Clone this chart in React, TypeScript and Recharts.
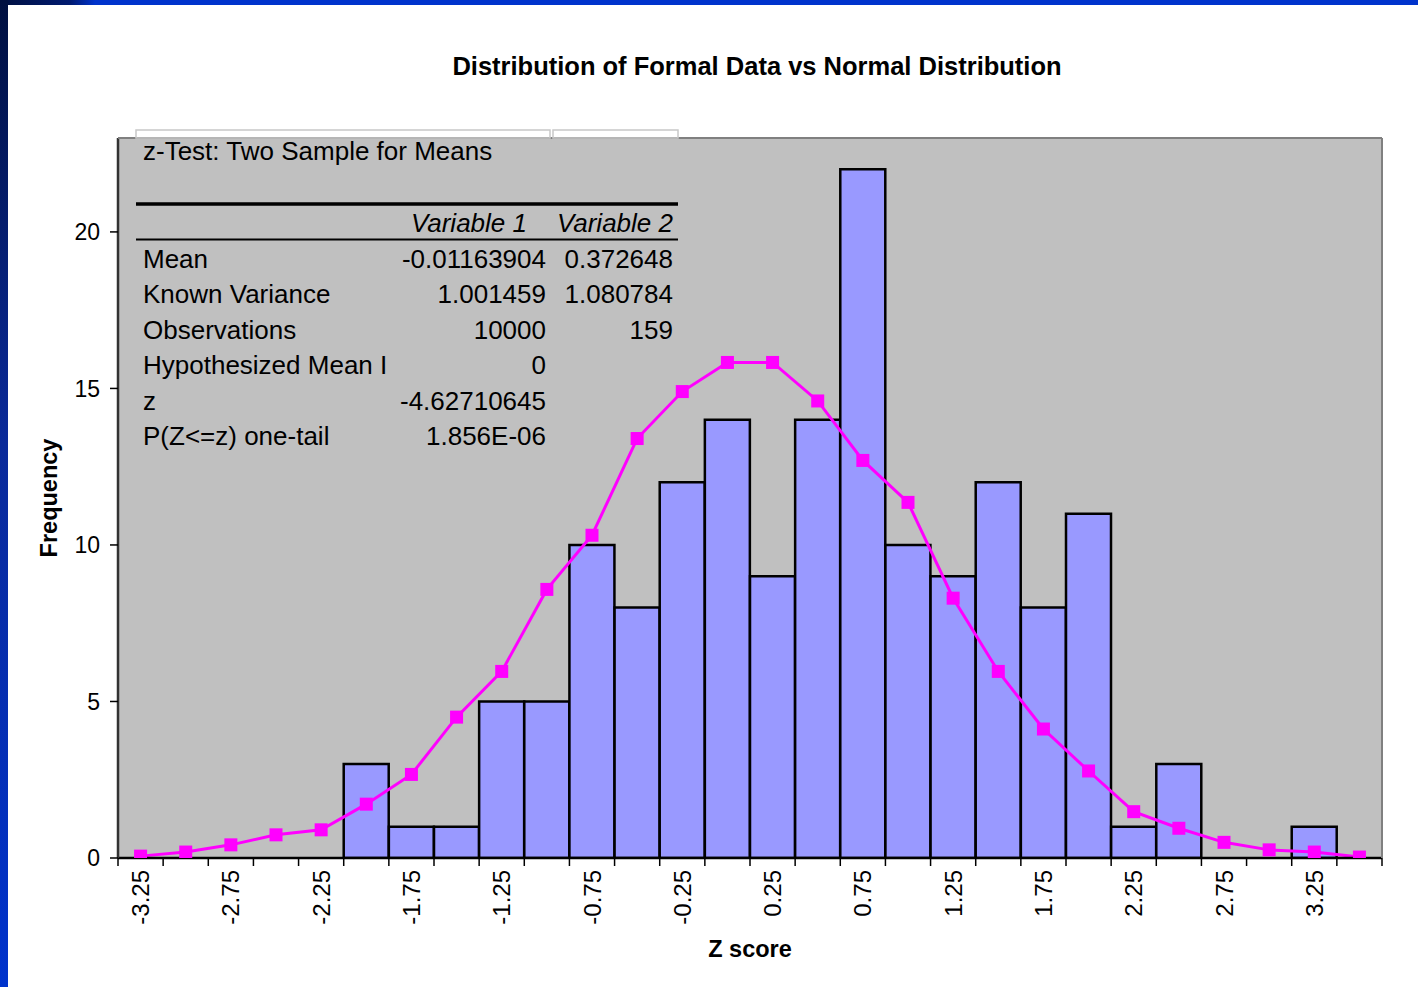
import React from 'react';
import { ComposedChart, Bar, Line, XAxis, YAxis, CartesianGrid } from 'recharts';

const categories = ['-3.25','-3','-2.75','-2.5','-2.25','-2','-1.75','-1.5','-1.25','-1','-0.75','-0.5','-0.25','0','0.25','0.5','0.75','1','1.25','1.5','1.75','2','2.25','2.5','2.75','3','3.25','3.5'];
const frequency = [0,0,0,0,0,3,1,1,5,5,10,8,12,14,9,14,22,10,9,12,8,11,1,3,0,0,1,0];
const normalCurve = [0.06,0.19,0.42,0.74,0.9,1.72,2.67,4.5,5.96,8.58,10.31,13.4,14.9,15.83,15.83,14.6,12.7,11.36,8.3,5.96,4.12,2.78,1.48,0.95,0.5,0.26,0.19,0.03];
const tickLabels = ['-3.25','-2.75','-2.25','-1.75','-1.25','-0.75','-0.25','0.25','0.75','1.25','1.75','2.25','2.75','3.25'];
const yTicks = [0, 5, 10, 15, 20];

const tableTitle = 'z-Test: Two Sample for Means';
const tableHeaders = ['Variable 1', 'Variable 2'];
const tableRowLabels = ['Mean', 'Known Variance', 'Observations', 'Hypothesized Mean I', 'z', 'P(Z<=z) one-tail'];
const tableVar1 = ['-0.01163904', '1.001459', '10000', '0', '-4.62710645', '1.856E-06'];
const tableVar2 = ['0.372648', '1.080784', '159', '', '', ''];

const data = categories.map((c, i) => ({ cat: c, freq: frequency[i], normal: normalCurve[i] }));

const W = 1418;
const H = 987;
const M = { top: 138, right: 36, bottom: 29, left: 58 };
const Y_W = 60;
const X_H = 100;
const PLOT_L = M.left + Y_W;
const PLOT_R = W - M.right;
const PLOT_T = M.top;
const PLOT_B = H - M.bottom - X_H;
const BAND = (PLOT_R - PLOT_L) / categories.length;
const FONT = '"Liberation Sans", Arial, Helvetica, sans-serif';

const XTick = (props: any) => {
  const { x, payload, index } = props;
  const show = tickLabels.includes(payload.value);
  const last = index === categories.length - 1;
  return (
    <g>
      <line x1={x - BAND / 2} x2={x - BAND / 2} y1={PLOT_B} y2={PLOT_B + 8} stroke="#000" strokeWidth={1.5} />
      {last && <line x1={x + BAND / 2} x2={x + BAND / 2} y1={PLOT_B} y2={PLOT_B + 8} stroke="#000" strokeWidth={1.5} />}
      {show && (
        <text
          x={x}
          y={PLOT_B + 12}
          transform={`rotate(-90, ${x}, ${PLOT_B + 12})`}
          textAnchor="end"
          dominantBaseline="central"
          fontSize={24}
          fill="#000"
          fontFamily={FONT}
        >
          {payload.value}
        </text>
      )}
    </g>
  );
};

const SquareDot = (props: any) => {
  const { cx, cy } = props;
  if (cx == null || cy == null) return null;
  return <rect x={cx - 6.5} y={cy - 6.5} width={13} height={13} fill="#FF00FF" />;
};

const TableOverlay = () => {
  const c0 = 136, c1 = 551, c2 = 678;
  const lx = 143, v1x = 546, v2x = 673;
  const rowY = (i: number) => 268 + i * 35.4;
  const ts = { fontFamily: FONT, fontSize: 26, fill: '#000' } as const;
  return (
    <svg width={W} height={H} style={{ position: 'absolute', left: 0, top: 0, pointerEvents: 'none' }}>
      <line x1={PLOT_L} x2={PLOT_R} y1={PLOT_T} y2={PLOT_T} stroke="#808080" strokeWidth={2} />
      <line x1={PLOT_R} x2={PLOT_R} y1={PLOT_T} y2={PLOT_B} stroke="#808080" strokeWidth={2} />
      <rect x={c0} y={130} width={c1 - 1 - c0} height={8} fill="none" stroke="#c8c8c8" strokeWidth={1.5} />
      <rect x={c1 + 2} y={130} width={c2 - c1 - 2} height={8} fill="none" stroke="#c8c8c8" strokeWidth={1.5} />
      <text x={lx} y={160} {...ts}>{tableTitle}</text>
      <line x1={c0} x2={c2} y1={204} y2={204} stroke="#000" strokeWidth={3.5} />
      <text x={v1x - 19} y={232} {...ts} fontStyle="italic" textAnchor="end">{tableHeaders[0]}</text>
      <text x={v2x} y={232} {...ts} fontStyle="italic" textAnchor="end">{tableHeaders[1]}</text>
      <line x1={c0} x2={c2} y1={239.5} y2={239.5} stroke="#000" strokeWidth={2} />
      {tableRowLabels.map((lab, i) => (
        <g key={lab}>
          <text x={lx} y={rowY(i)} {...ts}>{lab}</text>
          <text x={v1x} y={rowY(i)} {...ts} textAnchor="end">{tableVar1[i]}</text>
          {tableVar2[i] && <text x={v2x} y={rowY(i)} {...ts} textAnchor="end">{tableVar2[i]}</text>}
        </g>
      ))}
      <text x={757} y={75} textAnchor="middle" fontFamily={FONT} fontSize={25.5} fontWeight="bold" fill="#000">
        Distribution of Formal Data vs Normal Distribution
      </text>
    </svg>
  );
};

export default function App() {
  return (
    <div style={{ position: 'absolute', left: 0, top: 0, width: W, height: H, background: '#fff', overflow: 'hidden', fontFamily: FONT }}>
      <div style={{ position: 'absolute', left: 0, top: 0, width: W, height: 5, background: 'linear-gradient(90deg, #001040 0px, #001a70 70px, #0033cc 95px, #0033cc 100%)' }} />
      <div style={{ position: 'absolute', left: 0, top: 0, width: 8, height: H, background: 'linear-gradient(180deg, #001040 0%, #0a2a9a 45%, #0033cc 100%)' }} />
      <div style={{ position: 'absolute', left: 0, top: 0 }}>
        <ComposedChart width={W} height={H} data={data} margin={M} barCategoryGap={0} barGap={0}>
          <CartesianGrid fill="#C0C0C0" horizontal={false} vertical={false} />
          <XAxis
            dataKey="cat"
            type="category"
            interval={0}
            height={X_H}
            tick={<XTick />}
            tickLine={false}
            axisLine={{ stroke: '#000', strokeWidth: 2.5 }}
            label={{ value: 'Z score', position: 'insideBottom', offset: 1, fill: '#000', fontSize: 23.5, fontWeight: 'bold', fontFamily: FONT }}
          />
          <YAxis
            type="number"
            domain={[0, 23]}
            ticks={yTicks}
            allowDataOverflow
            width={Y_W}
            tickSize={8}
            tickMargin={10}
            tick={{ fill: '#000', fontSize: 23, fontFamily: FONT }}
            tickLine={{ stroke: '#000', strokeWidth: 1.5 }}
            axisLine={{ stroke: '#333', strokeWidth: 2.5 }}
            label={{ value: 'Frequency', angle: -90, position: 'insideLeft', offset: -9, fill: '#000', fontSize: 23.5, fontWeight: 'bold', fontFamily: FONT, style: { textAnchor: 'middle' } }}
          />
          <Bar dataKey="freq" fill="#9999FF" stroke="#000" strokeWidth={2.5} isAnimationActive={false} />
          <Line
            dataKey="normal"
            type="linear"
            stroke="#FF00FF"
            strokeWidth={3}
            dot={<SquareDot />}
            activeDot={false}
            isAnimationActive={false}
          />
        </ComposedChart>
      </div>
      <TableOverlay />
    </div>
  );
}
